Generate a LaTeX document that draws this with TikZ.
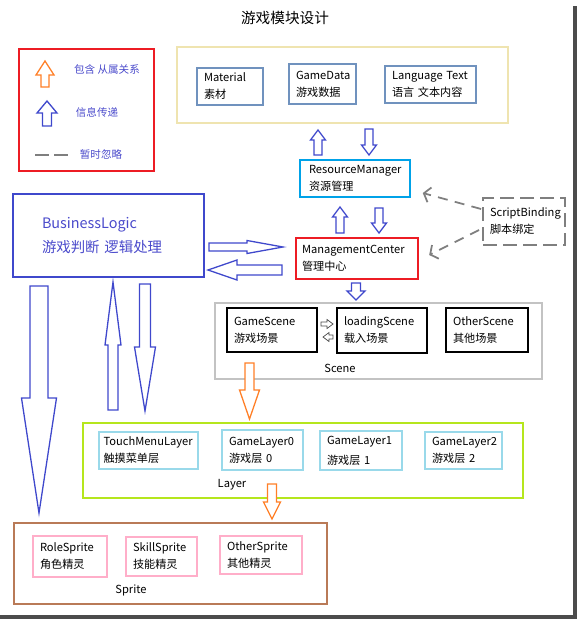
\documentclass[tikz,border=0pt]{standalone}
\usepackage{fontspec}
\setmainfont{Noto Sans CJK SC}
\usepackage{xcolor}
\usetikzlibrary{arrows.meta, positioning, calc}
\definecolor{cred}{HTML}{ED1C24}
\definecolor{cbeige}{HTML}{EFE4B0}
\definecolor{csteel}{HTML}{7092BE}
\definecolor{ccyan}{HTML}{00A2E8}
\definecolor{cindigo}{HTML}{3F48CC}
\definecolor{ctext}{HTML}{4A4ACB}
\definecolor{cgrey}{HTML}{7F7F7F}
\definecolor{csilver}{HTML}{C3C3C3}
\definecolor{corange}{HTML}{FF7F27}
\definecolor{clime}{HTML}{B5E61D}
\definecolor{cice}{HTML}{99D9EA}
\definecolor{cbrown}{HTML}{B97A57}
\definecolor{cpink}{HTML}{FFAEC9}

% outlined block arrow: [style]{from}{to}{shaft half}{head half}{head length}, sizes in px
\newcommand\blockarrow[6][]{%
  \coordinate (ba) at ($(#3)!#6*0.03cm!(#2)$);
  \draw[#1] ($(#2)!#4*0.03cm!90:(#3)$) -- ($(ba)!#4*0.03cm!90:(#3)$)
    -- ($(ba)!#5*0.03cm!90:(#3)$) -- (#3) -- ($(ba)!#5*0.03cm!-90:(#3)$)
    -- ($(ba)!#4*0.03cm!-90:(#3)$) -- ($(#2)!#4*0.03cm!-90:(#3)$) -- cycle;
}

\begin{document}
\begin{tikzpicture}[x=0.03cm, y=-0.03cm,
    sz/.style 2 args={minimum width=#1*0.03cm, minimum height=#2*0.03cm, text width=(#1-14)*0.03cm},
    box/.style={rectangle, inner sep=0pt, align=left, line width=1.3pt, font=\fontsize{9.5}{14.5}\selectfont},
    frame/.style={rectangle, inner sep=0pt, line width=1.4pt},
    lbl/.style={font=\fontsize{9.5}{12}\selectfont},
    legtxt/.style={font=\fontsize{9}{11}\selectfont, text=ctext},
    blue/.style={draw=cindigo, line width=1.1pt, fill=white},
    orng/.style={draw=corange, line width=1.1pt, fill=white},
    tiny/.style={draw=black!70, line width=0.6pt, fill=white},
    dasharr/.style={draw=cgrey, line width=1.5pt, dash pattern=on 0.3cm off 0.22cm,
                    -{Straight Barb[length=5pt, width=13pt]}}
]
\useasboundingbox (0,0) rectangle (578,619);
% shadow of the screenshot
\fill[black!70] (572.5,6) rectangle (577,619);
\fill[black!70] (0,614.5) rectangle (577,619);

\node[font=\fontsize{12.5}{14}\selectfont] (title) at (285,18) {游戏模块设计};

% legend
\node[frame, draw=cred, sz={135}{122}] (legend) at (86.5,110) {};
\node[legtxt] (leg1) at (107,69) {包含 从属关系};
\node[legtxt] (leg2) at (97,112) {信息传递};
\node[legtxt] (leg3) at (101,154) {暂时忽略};
\coordinate (lo1) at (45,87); \coordinate (lo2) at (45,61);
\coordinate (lb1) at (47,126); \coordinate (lb2) at (47,101);
\blockarrow[orng]{lo1}{lo2}{4}{9}{14}
\blockarrow[blue]{lb1}{lb2}{4.5}{10}{12}
\draw[cgrey, line width=1.6pt, dash pattern=on 0.42cm off 0.15cm] (35,155) -- (68,155);

% resources
\node[frame, draw=cbeige, line width=1.6pt, sz={331}{76}] (res) at (342.5,85) {};
\node[box, draw=csteel, sz={66}{37}] (mat) at (230,86.5) {Material\\素材};
\node[box, draw=csteel, sz={67}{40}] (gd) at (322.5,84) {GameData\\游戏数据};
\node[box, draw=csteel, sz={91}{37}] (lt) at (430.5,84.5) {Language Text\\语言 文本内容};

\node[box, draw=ccyan, sz={110}{37}, text width=92*0.03cm] (rm) at (355,178.5) {ResourceManager\\资源管理};
\node[box, draw=cred, line width=2pt, sz={122}{41}, text width=110*0.03cm] (mc) at (357,258.5) {ManagementCenter\\管理中心};
\node[box, draw=cgrey, line width=1.6pt, dash pattern=on 0.42cm off 0.18cm, sz={82}{47}] (sb) at (524,221.5) {ScriptBinding\\脚本绑定};

\node[box, draw=cindigo, line width=1.6pt, sz={191}{83}, text width=133*0.03cm,
      text=ctext, font=\fontsize{12.3}{21}\selectfont] (bl) at (108.5,235.5) {BusinessLogic\\游戏判断 逻辑处理};

% scenes
\node[frame, draw=csilver, sz={327}{76}] (scene) at (378.5,341) {};
\node[box, draw=black, line width=1.6pt, sz={90}{44}] (gs) at (272,330) {GameScene\\游戏场景};
\node[box, draw=black, line width=1.6pt, sz={90}{45}] (ls) at (382,330.5) {loadingScene\\载入场景};
\node[box, draw=black, line width=1.6pt, sz={82}{44}] (os) at (487,330) {OtherScene\\其他场景};
\node[lbl] (scenelbl) at (340,368) {Scene};

% layers
\node[frame, draw=clime, line width=1.6pt, sz={440}{75}] (layer) at (303,460.5) {};
\node[box, draw=cice, sz={99}{37}, text width=90*0.03cm] (tml) at (148.5,450.5) {TouchMenuLayer\\触摸菜单层};
\node[box, draw=cice, sz={81}{40}] (gl0) at (262.5,450) {GameLayer0\\游戏层 0};
\node[box, draw=cice, sz={82}{39}, font=\fontsize{9.5}{17}\selectfont] (gl1) at (361,450.5) {GameLayer1\\游戏层 1};
\node[box, draw=cice, sz={77}{37}] (gl2) at (463.5,450.5) {GameLayer2\\游戏层 2};
\node[lbl] (layerlbl) at (232,485) {Layer};

% sprites
\node[frame, draw=cbrown, sz={313}{81}] (sprite) at (170.5,563.5) {};
\node[box, draw=cpink, sz={74}{41}] (rs) at (70,556.5) {RoleSprite\\角色精灵};
\node[box, draw=cpink, sz={71}{39}] (ss) at (161.5,556.5) {SkillSprite\\技能精灵};
\node[box, draw=cpink, sz={82}{38}] (ots) at (261,555) {OtherSprite\\其他精灵};
\node[lbl] (spritelbl) at (131,590) {Sprite};

% information flow
\coordinate (rmUp1) at (318,155);  \coordinate (rmUp2) at (318,130);
\coordinate (resDn1) at (369,129); \coordinate (resDn2) at (369,155);
\coordinate (mcUp1) at (340,233);  \coordinate (mcUp2) at (340,207);
\coordinate (rmDn1) at (379,208);  \coordinate (rmDn2) at (379,233);
\coordinate (mcDn1) at (356,283);  \coordinate (mcDn2) at (356,300);
\coordinate (blR1) at (209,247);   \coordinate (blR2) at (283,247);
\coordinate (mcL1) at (282,270);   \coordinate (mcL2) at (208,270);
\coordinate (blS1) at (39,286);    \coordinate (blS2) at (39,513);
\coordinate (lyU1) at (113,410);   \coordinate (lyU2) at (113,282);
\coordinate (blD1) at (145,284);   \coordinate (blD2) at (145,411);
\blockarrow[blue]{rmUp1}{rmUp2}{4}{7.5}{10}
\blockarrow[blue]{resDn1}{resDn2}{4}{7.5}{10}
\blockarrow[blue]{mcUp1}{mcUp2}{4}{7.5}{10}
\blockarrow[blue]{rmDn1}{rmDn2}{4}{7.5}{10}
\blockarrow[blue]{mcDn1}{mcDn2}{4.5}{9}{9}
\blockarrow[blue]{blR1}{blR2}{4}{6.5}{36}
\blockarrow[blue]{mcL1}{mcL2}{5}{10}{29}
\blockarrow[blue]{blS1}{blS2}{9}{17.5}{115}
\blockarrow[blue]{lyU1}{lyU2}{5}{8}{63}
\blockarrow[blue]{blD1}{blD2}{5.5}{10.5}{64}

% containment
\coordinate (scDn1) at (249.5,363); \coordinate (scDn2) at (249.5,419);
\coordinate (lyDn1) at (272,484);   \coordinate (lyDn2) at (272,519);
\blockarrow[orng]{scDn1}{scDn2}{4.5}{10}{29}
\blockarrow[orng]{lyDn1}{lyDn2}{4.5}{8.5}{17}

% scene switching
\coordinate (gsR1) at (321,324); \coordinate (gsR2) at (333,324);
\coordinate (lsL1) at (333,337); \coordinate (lsL2) at (323,337);
\blockarrow[tiny]{gsR1}{gsR2}{2}{4.5}{6}
\blockarrow[tiny]{lsL1}{lsL2}{2}{4.5}{6}

% ignored for now
\draw[dasharr] ($(sb.west)+(-1,-12.5)$) -- ($(rm.east)+(12,14.5)$);
\draw[dasharr] ($(sb.west)+(-3,8.5)$) -- ($(mc.east)+(10,-3.5)$);
\end{tikzpicture}
\end{document}
